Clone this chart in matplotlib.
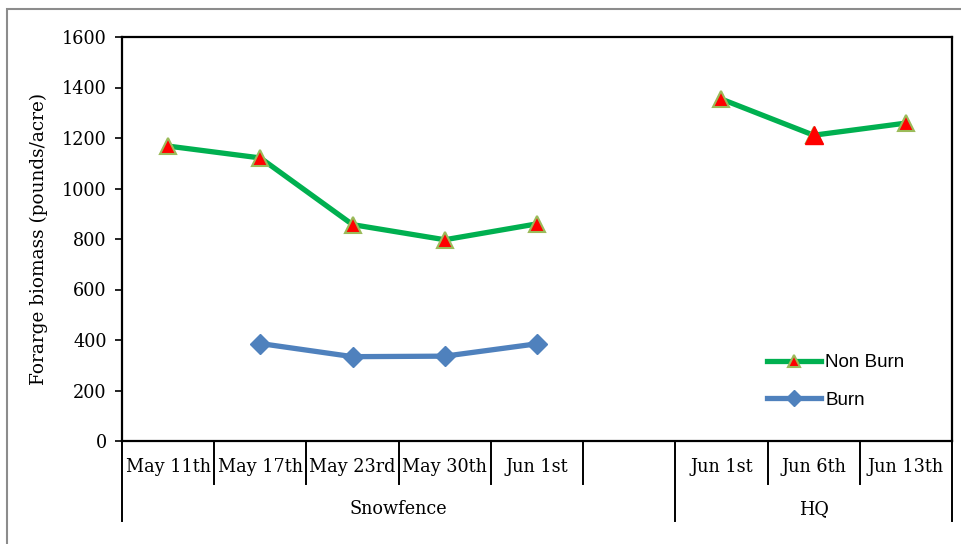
import numpy as np
import matplotlib
matplotlib.use("Agg")
import matplotlib.pyplot as plt
from matplotlib.transforms import blended_transform_factory
from matplotlib.patches import Rectangle

categories = ["May 11th", "May 17th", "May 23rd", "May 30th", "Jun 1st", "", "Jun 1st", "Jun 6th", "Jun 13th"]
groups = ["Snowfence", "HQ"]
group_sizes = [6, 3]
non_burn = [1168, 1121, 857, 797, 860, np.nan, 1354, 1211, 1259]
burn = [np.nan, 386, 334, 336, 385, np.nan, np.nan, np.nan, np.nan]
yticks = [0, 200, 400, 600, 800, 1000, 1200, 1400, 1600]

serif = ["DejaVu Serif"]
sans = ["Liberation Sans", "DejaVu Sans"]
fs = 12.7

W, H = 962, 544
fig = plt.figure(figsize=(W / 100, H / 100), dpi=100)
fig.patches.append(Rectangle((7 / W, -0.1), 1.2, (544 - 9) / H + 0.1, transform=fig.transFigure,
                             fill=False, edgecolor="#8c8c8c", linewidth=1.5))

ax = fig.add_axes([122 / W, (H - 441) / H, 830 / W, 404 / H])
x = np.arange(len(categories))

ax.plot(x, non_burn, color="#00B050", linewidth=3.8, marker="^", markersize=12,
        markerfacecolor="#FF0000", markeredgecolor="#9BBB59", markeredgewidth=1.5,
        label="Non Burn", zorder=3)
# Jun 6th point drawn without the olive edge
i6 = 7
ax.plot([x[i6]], [non_burn[i6]], linestyle="none", marker="^", markersize=13,
        markerfacecolor="#FF0000", markeredgecolor="#FF0000", zorder=4)
ax.plot(x, burn, color="#4F81BD", linewidth=3.8, marker="D", markersize=10,
        markerfacecolor="#4F81BD", markeredgecolor="#4F81BD", label="Burn", zorder=3)

ax.set_xlim(-0.5, len(categories) - 0.5)
ax.set_ylim(0, 1600)
ax.set_yticks(yticks)
ax.set_yticklabels([str(v) for v in yticks], fontfamily=serif, fontsize=fs)
ax.tick_params(axis="y", direction="out", length=5, width=1.2, pad=6)
ax.set_xticks([])
for s in ax.spines.values():
    s.set_linewidth(1.6)
    s.set_color("black")

ax.set_ylabel("Forarge biomass (pounds/acre)", fontfamily=serif, fontsize=13.3, labelpad=10)

trans = blended_transform_factory(ax.transData, ax.transAxes)
ah = 404.0
y_cat = -(467 - 441) / ah
y_grp = -(509 - 441) / ah
y_short = -(484 - 441) / ah
y_long = -(521 - 441) / ah

for i, c in enumerate(categories):
    ax.text(x[i], y_cat, c, transform=trans, ha="center", va="center",
            fontfamily=serif, fontsize=fs)

bounds = [0]
for g in group_sizes:
    bounds.append(bounds[-1] + g)
group_edges = set(bounds)
for b in range(len(categories) + 1):
    yb = y_long if b in group_edges else y_short
    ax.plot([b - 0.5, b - 0.5], [0, yb], transform=trans, color="black",
            linewidth=1.4, clip_on=False)
for gi, g in enumerate(groups):
    mid = (bounds[gi] + bounds[gi + 1] - 1) / 2
    ax.text(mid, y_grp, g, transform=trans, ha="center", va="center",
            fontfamily=serif, fontsize=fs)

leg = ax.legend(loc="center left", bbox_to_anchor=(0.777, 0.147), frameon=False,
                prop={"family": sans, "size": 13.5}, handlelength=2.9, handletextpad=0.2,
                labelspacing=1.1, borderaxespad=0, borderpad=0)
for h in leg.legend_handles:
    h.set_markersize(8)

fig.savefig("out.png", dpi=100)
